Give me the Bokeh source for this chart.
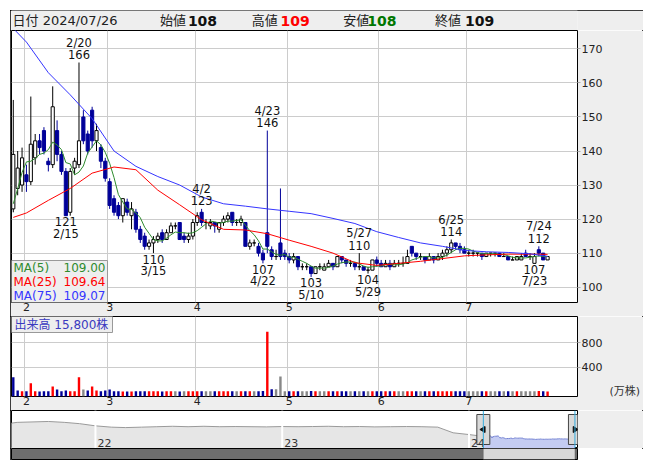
import numpy as np
import pandas as pd
from bokeh.plotting import figure
from bokeh.layouts import column
from bokeh.models import Range1d, FixedTicker, Label, BoxAnnotation, Span, LinearAxis
from bokeh.core.properties import value
from bokeh.embed import file_html
from bokeh.resources import INLINE

# ------------------------------------------------------------------ data
YEAR = 2024
trading_days = {
    1: [29, 30, 31],
    2: [1, 2, 5, 6, 7, 8, 9, 13, 14, 15, 16, 19, 20, 21, 22, 26, 27, 28, 29],
    3: [1, 4, 5, 6, 7, 8, 11, 12, 13, 14, 15, 18, 19, 21, 22, 25, 26, 27, 28, 29],
    4: [1, 2, 3, 4, 5, 8, 9, 10, 11, 12, 15, 16, 17, 18, 19, 22, 23, 24, 25, 26, 30],
    5: [1, 2, 7, 8, 9, 10, 13, 14, 15, 16, 17, 20, 21, 22, 23, 24, 27, 28, 29, 30, 31],
    6: [3, 4, 5, 6, 7, 10, 11, 12, 13, 14, 17, 18, 19, 20, 21, 24, 25, 26, 27, 28],
    7: [1, 2, 3, 4, 5, 8, 9, 10, 11, 12, 16, 17, 18, 19, 22, 23, 24, 25, 26],
}

# one row per month (Jan+Feb, Mar, Apr, May, Jun, Jul)
opens = [123, 129, 130, 133, 131, 138, 143, 146, 137, 136, 146, 139, 134, 122, 135, 136, 150, 145, 152, 143, 141, 137,
         131, 126, 124, 121, 125, 121, 122, 117, 115, 112, 113, 114, 116, 114, 116, 118, 119, 115, 114, 115,
         119, 122, 119, 118, 119, 117, 119, 120, 122, 119, 119, 119, 112, 113, 112, 110, 116, 111, 109, 113, 110,
         109, 108, 109, 106, 106, 106, 104, 106, 105, 106, 107, 106, 109, 108, 107, 107, 106, 106, 105, 105, 108,
         107, 106, 107, 106, 107, 107, 107, 112, 110, 109, 109, 108, 109, 108, 109, 110, 111, 113, 112, 111,
         110, 110, 110, 110, 109, 110, 110, 110, 109, 109, 108, 108, 108, 110, 109, 107, 111, 110, 108]
highs = [155, 140, 141, 136, 156, 145, 145, 147, 138, 159, 149, 140, 135, 135, 138, 166, 152, 146, 153, 148, 142, 138,
         132, 127, 125, 126, 126, 125, 123, 118, 116, 114, 115, 116, 117, 117, 119, 119, 119, 116, 116, 120,
         122, 123, 120, 120, 119, 119, 121, 122, 122, 120, 121, 119, 114, 114, 113, 111, 146, 112, 111, 129, 111,
         110, 110, 109, 107, 107, 106, 106, 107, 107, 108, 107, 109, 109, 108, 108, 107, 110, 106, 106, 108, 109,
         108, 108, 108, 108, 108, 109, 111, 112, 110, 110, 109, 110, 109, 110, 111, 112, 114, 113, 113, 112,
         111, 111, 110, 110, 110, 110, 110, 110, 110, 109, 109, 109, 110, 111, 110, 110, 112, 110, 109]
lows = [122, 127, 128, 128, 130, 136, 139, 139, 134, 135, 137, 133, 121, 121, 133, 135, 142, 139, 141, 140, 135, 131,
        123, 121, 120, 119, 121, 117, 116, 113, 111, 111, 110, 113, 113, 114, 116, 117, 114, 113, 113, 114,
        118, 118, 117, 117, 116, 116, 118, 119, 118, 118, 118, 112, 111, 112, 109, 107, 110, 108, 108, 108, 108,
        107, 107, 105, 105, 105, 103, 104, 105, 105, 106, 105, 106, 107, 106, 106, 105, 105, 105, 104, 105, 106,
        106, 106, 105, 106, 106, 106, 107, 109, 108, 108, 107, 108, 107, 108, 108, 109, 110, 111, 110, 110,
        109, 109, 109, 108, 109, 109, 109, 109, 109, 108, 108, 108, 108, 109, 108, 107, 109, 108, 108]
closes = [139, 135, 138, 131, 142, 143, 141, 140, 136, 153, 139, 134, 121, 134, 137, 143, 143, 140, 143, 146, 137, 132,
          124, 122, 121, 126, 122, 123, 117, 114, 112, 113, 114, 115, 114, 116, 118, 118, 114, 114, 115, 119,
          121, 119, 119, 119, 118, 119, 120, 121, 119, 119, 120, 112, 113, 113, 110, 108, 112, 109, 109, 109, 109,
          108, 109, 106, 106, 106, 104, 106, 106, 106, 107, 106, 109, 108, 107, 107, 106, 106, 105, 105, 108, 107,
          106, 107, 106, 107, 107, 107, 109, 110, 109, 109, 108, 109, 108, 109, 110, 111, 113, 112, 111, 110,
          110, 110, 110, 109, 110, 110, 110, 109, 109, 108, 108, 109, 109, 109, 109, 109, 110, 108, 109]
# 万株
volumes = [236, 18, 5, 5, 138, 5, 3, 5, 5, 84, 33, 8, 18, 5, 5, 236, 33, 18, 84, 18, 8, 18,
           33, 5, 5, 3, 3, 3, 5, 8, 5, 8, 5, 5, 3, 8, 5, 5, 3, 5, 8, 5,
           8, 5, 8, 8, 5, 6, 8, 8, 5, 8, 5, 8, 5, 8, 8, 10, 981, 39, 39, 247, 5,
           8, 5, 8, 5, 5, 10, 8, 5, 5, 8, 5, 8, 5, 8, 5, 5, 8, 5, 8, 5, 5,
           5, 8, 5, 5, 8, 5, 5, 8, 5, 5, 8, 5, 5, 5, 8, 5, 8, 5, 5, 8,
           5, 5, 5, 8, 5, 5, 5, 5, 5, 8, 5, 5, 5, 5, 5, 5, 10, 5, 1.58]
pre_closes = [113, 114, 115.5, 141]   # closes of the sessions just before the window

# moving averages (trading-day index, value)
ma_idx = [-3, 0, 5, 10, 15, 20, 25, 30, 35, 40, 45, 50, 55, 60, 65, 70, 75, 80, 85, 90, 95, 100, 105, 110, 115, 119]
ma25_vals = [120.5, 121.8, 125.5, 129.0, 133.5, 135.3, 134.5, 128.5, 124.2, 119.8, 117.0, 116.8, 115.7, 113.8, 112.0,
             110.0, 107.2, 106.4, 107.0, 107.6, 108.4, 109.2, 109.5, 109.7, 109.7, 109.64]
ma75_vals = [176.0, 172.0, 163.0, 156.5, 149.5, 140.0, 135.5, 132.5, 130.0, 126.5, 124.5, 123.8, 123.0, 122.3, 121.6,
             120.2, 118.7, 116.3, 114.6, 113.0, 112.0, 110.8, 110.4, 110.2, 109.8, 109.07]

high_marks = ["2/20", "4/2", "4/23", "5/27", "6/25", "7/24"]
low_marks = ["2/15", "3/15", "4/22", "5/10", "5/29", "7/23"]

price_ticks = [100, 110, 120, 130, 140, 150, 160, 170]
vol_ticks = [400, 800]
vol_unit = "(万株)"

# navigator: long history (monthly, yen) before the window
nav_months = ["2021-07", "2021-08", "2021-09", "2021-10", "2021-11", "2021-12",
              "2022-01", "2022-02", "2022-03", "2022-04", "2022-05", "2022-06",
              "2022-07", "2022-08", "2022-09", "2022-10", "2022-11", "2022-12",
              "2023-01", "2023-02", "2023-03", "2023-04", "2023-05", "2023-06",
              "2023-07", "2023-08", "2023-09", "2023-10", "2023-11", "2023-12", "2024-01"]
nav_vals = [275, 300, 305, 310, 300, 285,
            260, 245, 240, 245, 250, 255,
            250, 255, 250, 252, 250, 248,
            252, 250, 252, 255, 250, 252,
            248, 250, 252, 250, 245, 180, 160]
year_labels = ["22", "23", "24"]

# ------------------------------------------------------------------ derived
dates, months = [], []
for m, ds in trading_days.items():
    for d in ds:
        dates.append(f"{m}/{d}")
        months.append(m)
n_pre = len(trading_days[1])
x = np.arange(len(dates)) - n_pre
opens, highs, lows, closes = map(np.array, (opens, highs, lows, closes))
volumes = np.array(volumes, dtype=float)
full_dates = pd.to_datetime([f"{YEAR}-{d.split('/')[0]}-{d.split('/')[1]}" for d in dates])

month_start = [int(x[months.index(m)]) for m in range(2, 8)]
month_labels = [str(m) for m in range(2, 8)]
grid_x = [m - 0.5 for m in month_start]

all_closes = pd.Series(np.concatenate([pre_closes, closes]))
ma5 = all_closes.rolling(5).mean().values[len(pre_closes):]

DOWN = "#000099"
RED = "#ff0000"
GREEN = "#2e8b2e"
BLUE = "#3535ff"
GREY_BAR = "#888888"
PANEL = "#eeeeee"
FONT = "DejaVu Sans"
JP = "DejaVu Sans, Noto Sans CJK JP"

W = 633          # figure width (page x 10 .. 643)
LB, RB = 1, 64   # frame: page x 11 .. 579
xr = Range1d(-3.41, 125.83)


def base_fig(height, y_range, bottom, x_range=xr, **kw):
    p = figure(width=W, height=height, x_range=x_range, y_range=y_range,
               output_backend="svg", toolbar_location=None,
               min_border_left=LB, min_border_right=RB, min_border_top=0,
               min_border_bottom=bottom, **kw)
    p.background_fill_color = "white"
    p.border_fill_color = PANEL
    p.outline_line_color = "black"
    return p


def style_axes(p):
    p.xaxis.ticker = FixedTicker(ticks=month_start)
    p.xaxis.major_label_overrides = {ms: lab for ms, lab in zip(month_start, month_labels)}
    p.xaxis.major_tick_in = 0
    p.xaxis.major_tick_out = 0
    p.xaxis.minor_tick_in = 0
    p.xaxis.minor_tick_out = 0
    p.xaxis.axis_line_color = None
    p.xaxis.major_label_standoff = 0
    p.yaxis.major_tick_in = 0
    p.yaxis.major_tick_out = 3
    p.yaxis.minor_tick_in = 0
    p.yaxis.minor_tick_out = 0
    p.yaxis.major_tick_line_color = "#aaaaaa"
    p.yaxis.axis_line_color = None
    p.yaxis.major_label_standoff = 1
    p.axis.major_label_text_font = FONT
    p.axis.major_label_text_font_size = "11px"
    p.axis.major_label_text_color = "#222222"
    p.xgrid.ticker = FixedTicker(ticks=grid_x)
    p.grid.grid_line_color = "#cccccc"


# ------------------------------------------------------------------ header
head = figure(width=W, height=20, x_range=Range1d(0, 568), y_range=Range1d(0, 20),
              output_backend="svg", toolbar_location=None, x_axis_location=None, y_axis_location=None,
              min_border_left=LB, min_border_right=RB, min_border_top=0, min_border_bottom=0)
head.background_fill_color = PANEL
head.border_fill_color = PANEL
head.outline_line_color = None
head.grid.visible = False
last_m, last_d = dates[-1].split("/")
head.text(x=[1], y=[10], text=[f"日付 {YEAR}/{int(last_m):02d}/{int(last_d):02d}"],
          text_baseline="middle", text_font=value(JP), text_font_size="13px", text_color="#222222")
items = [("始値", opens[-1], "#111111", 149, 177), ("高値", highs[-1], "#ff0000", 241, 270),
         ("安値", lows[-1], "#007700", 333, 357), ("終値", closes[-1], "#111111", 425, 455)]
for lab, val, col, xl, xv in items:
    head.text(x=[xl], y=[10], text=[lab], text_baseline="middle", text_font=value(JP),
              text_font_size="13px", text_color="#222222")
    head.text(x=[xv], y=[10], text=[f"{int(val)}"], text_baseline="middle", text_font=value(FONT),
              text_font_size="14px", text_font_style="bold", text_color=col)

# ------------------------------------------------------------------ price panel
price = base_fig(286, Range1d(95.5, 175.4), 14, y_axis_location="right")
style_axes(price)
price.yaxis.ticker = FixedTicker(ticks=price_ticks)
price.ygrid.ticker = FixedTicker(ticks=price_ticks)

inc = closes >= opens
dec = ~inc
price.segment(x0=x[inc], y0=lows[inc], x1=x[inc], y1=highs[inc], line_color="black")
price.segment(x0=x[dec], y0=lows[dec], x1=x[dec], y1=highs[dec], line_color=DOWN)
price.vbar(x=x[inc], width=0.72, bottom=opens[inc], top=closes[inc], fill_color="white", line_color="black")
price.vbar(x=x[dec], width=0.72, bottom=closes[dec], top=opens[dec], fill_color=DOWN, line_color=DOWN)

price.line(x, ma5, line_color=GREEN, line_width=1)
price.line(ma_idx, ma25_vals, line_color=RED, line_width=1)
price.line(ma_idx, ma75_vals, line_color=BLUE, line_width=1)

hi_i = [dates.index(d) for d in high_marks]
lo_i = [dates.index(d) for d in low_marks]
tstyle = dict(text_align="center", text_baseline="middle", text_font=value(FONT),
              text_font_size="11.5px", text_color="#111111")
price.text(x=x[hi_i], y=highs[hi_i], text=[f"{int(v)}" for v in highs[hi_i]], y_offset=-8, **tstyle)
price.text(x=x[hi_i], y=highs[hi_i], text=high_marks, y_offset=-20, **tstyle)
price.text(x=x[lo_i], y=lows[lo_i], text=[f"{int(v)}" for v in lows[lo_i]], y_offset=6, **tstyle)
price.text(x=x[lo_i], y=lows[lo_i], text=low_marks, y_offset=18, **tstyle)

price.add_layout(BoxAnnotation(left=0, right=96, bottom=0, top=42, left_units="screen", right_units="screen",
                               bottom_units="screen", top_units="screen", fill_color=PANEL,
                               fill_alpha=1, line_color="#999999", line_alpha=1))
legend_rows = [("MA(5)", ma5[-1], GREEN), ("MA(25)", ma25_vals[-1], RED), ("MA(75)", ma75_vals[-1], BLUE)]
for r, (name, val, col) in enumerate(legend_rows):
    yy = 35 - 14 * r
    price.add_layout(Label(x=2, y=yy, x_units="screen", y_units="screen", text=name, text_color=col,
                           text_font=FONT, text_font_size="12px", text_baseline="middle"))
    price.add_layout(Label(x=94, y=yy, x_units="screen", y_units="screen", text=f"{val:.2f}", text_color=col,
                           text_font=FONT, text_font_size="12px", text_baseline="middle", text_align="right"))

# ------------------------------------------------------------------ volume panel
VOL_FRAME_H = 80
vol_range = Range1d(-80, 1231)
vol = base_fig(94, vol_range, 14, y_axis_location="right")
style_axes(vol)
vol.yaxis.ticker = FixedTicker(ticks=vol_ticks)
vol.ygrid.ticker = FixedTicker(ticks=vol_ticks)
unit_axis = LinearAxis(ticker=FixedTicker(ticks=[0]), major_label_overrides={0: vol_unit},
                       major_tick_in=0, major_tick_out=0, minor_tick_in=0, minor_tick_out=0,
                       axis_line_color=None, major_label_standoff=4, major_label_text_font=JP,
                       major_label_text_font_size="11px", major_label_text_color="#333333")
vol.add_layout(unit_axis, "right")
prev = np.concatenate([[pre_closes[-1]], closes[:-1]])
vol_colors = np.where(closes > prev, RED, np.where(closes < prev, DOWN, GREY_BAR))
vol.vbar(x=x, width=0.55, bottom=vol_range.start, top=volumes, fill_color=vol_colors, line_color=None)
vol.add_layout(BoxAnnotation(left=0, right=101, bottom=VOL_FRAME_H - 16, top=VOL_FRAME_H,
                             left_units="screen", right_units="screen",
                             bottom_units="screen", top_units="screen", fill_color=PANEL,
                             fill_alpha=1, line_color="#999999", line_alpha=1))
vol.add_layout(Label(x=3, y=VOL_FRAME_H - 8, x_units="screen", y_units="screen",
                     text=f"出来高  {int(round(volumes[-1] * 10000)):,}株", text_color="#3a3ac0",
                     text_font=JP, text_font_size="12px", text_baseline="middle"))

# ------------------------------------------------------------------ navigator
nav_x = pd.to_datetime([s + "-01" for s in nav_months])
nav_xr = Range1d(pd.Timestamp("2021-07-21"), pd.Timestamp("2024-07-31"))
nav_yr = Range1d(0, 436)
nav = figure(width=W, height=38, x_range=nav_xr, y_range=nav_yr, output_backend="svg",
             toolbar_location=None, x_axis_location=None, y_axis_location=None,
             min_border_left=LB, min_border_right=RB, min_border_top=0, min_border_bottom=0)
nav.background_fill_color = "white"
nav.border_fill_color = PANEL
nav.outline_line_color = "black"
nav.grid.visible = False
hist_x = list(nav_x) + [full_dates[0]]
hist_y = list(nav_vals) + [closes[0]]
nav.varea(x=hist_x, y1=0, y2=hist_y, fill_color="#e6e6e6")
nav.line(hist_x, hist_y, line_color="#9a9a9a", line_width=1)
nav.varea(x=full_dates, y1=0, y2=closes, fill_color="#c4ccf2")
nav.line(full_dates, closes, line_color="#7482d2", line_width=1)
for yl in year_labels:
    yt = pd.Timestamp(f"20{yl}-01-01")
    nav.add_layout(Span(location=yt.value / 1e6, dimension="height", line_color="white", line_width=2))
    nav.add_layout(Label(x=yt.value / 1e6, y=2, y_units="screen", x_offset=2, text=yl,
                         text_font=FONT, text_font_size="11px", text_color="#333333"))
for t in (full_dates[0], full_dates[-1]):
    nav.add_layout(Span(location=t.value / 1e6, dimension="height", line_color="#33aadd", line_width=1))
mid = (nav_yr.start + nav_yr.end) / 2
nav.rect(x=[full_dates[0], full_dates[-1]], y=[mid, mid], width=13, height=30, width_units="screen",
         height_units="screen", fill_color="#d9d9d9", line_color="#444444")
nav.scatter(x=[full_dates[0]], y=[mid], marker="triangle", angle=np.pi / 2, size=6, color="#111111")
nav.scatter(x=[full_dates[-1]], y=[mid], marker="triangle", angle=-np.pi / 2, size=6, color="#111111")

# ------------------------------------------------------------------ scroll bar
scroll = figure(width=W, height=12, x_range=nav_xr, y_range=Range1d(0, 1), output_backend="svg",
                toolbar_location=None, x_axis_location=None, y_axis_location=None,
                min_border_left=LB, min_border_right=RB, min_border_top=0, min_border_bottom=1)
scroll.background_fill_color = "#6e6e6e"
scroll.border_fill_color = "white"
scroll.outline_line_color = "black"
scroll.grid.visible = False
scroll.add_layout(BoxAnnotation(left=full_dates[0].value / 1e6, right=full_dates[-1].value / 1e6,
                                fill_color="#d8d8d8", fill_alpha=1, line_color="#555555"))

layout = column(head, price, vol, nav, scroll, margin=(10, 0, 0, 10),
                styles={"outline": "1px solid black", "outline-offset": "-1px"})
open("out.html", "w").write(file_html(layout, INLINE))
